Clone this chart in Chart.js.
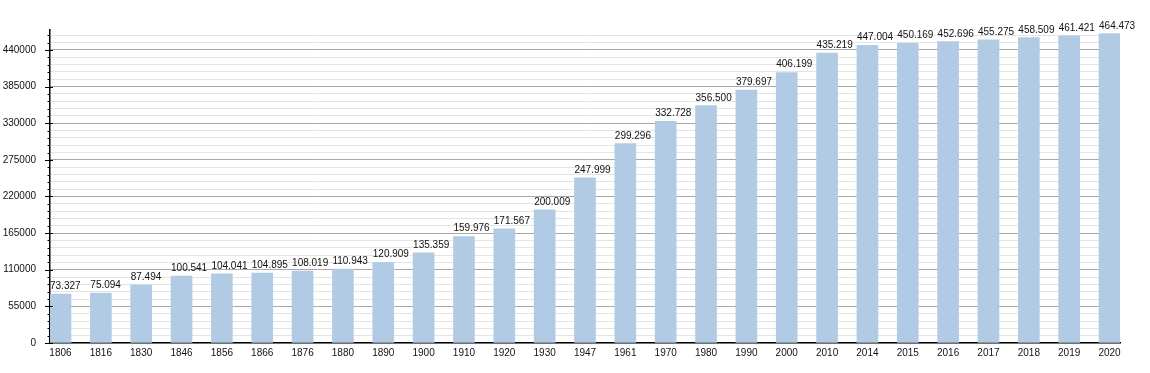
<!DOCTYPE html>
<html>
<head>
<meta charset="utf-8">
<script src="https://cdn.jsdelivr.net/npm/chart.js@4/dist/chart.umd.min.js"></script>
<style>
html,body{margin:0;padding:0;background:#fff;}
#wrap{width:1150px;height:373px;}
</style>
</head>
<body>
<div id="wrap"><canvas id="c" width="1150" height="373"></canvas></div>
<script>
const years = ["1806","1816","1830","1846","1856","1866","1876","1880","1890","1900","1910","1920","1930","1947","1961","1970","1980","1990","2000","2010","2014","2015","2016","2017","2018","2019","2020"];
const population = [73327,75094,87494,100541,104041,104895,108019,110943,120909,135359,159976,171567,200009,247999,299296,332728,356500,379697,406199,435219,447004,450169,452696,455275,458509,461421,464473];
const populationLabels = ["73.327","75.094","87.494","100.541","104.041","104.895","108.019","110.943","120.909","135.359","159.976","171.567","200.009","247.999","299.296","332.728","356.500","379.697","406.199","435.219","447.004","450.169","452.696","455.275","458.509","461.421","464.473"];
const yMajorStep = 55000;
const yMinorStep = 11000;
const yMax = 470000;

const FONT = "'Liberation Sans', Arial, sans-serif";

const labelPlugin = {
  id: 'valueLabels',
  afterDatasetsDraw(chart) {
    const ctx = chart.ctx;
    const meta = chart.getDatasetMeta(0);
    ctx.save();
    ctx.font = "10px " + FONT;
    ctx.fillStyle = "#111";
    ctx.textAlign = "left";
    ctx.textBaseline = "alphabetic";
    meta.data.forEach((bar, i) => {
      const left = bar.x - bar.width / 2;
      ctx.fillText(populationLabels[i], left, bar.y - 5);
    });
    ctx.restore();
  }
};

const tickPlugin = {
  id: 'yTicks',
  afterDraw(chart) {
    const ctx = chart.ctx;
    const ys = chart.scales.y;
    const ca = chart.chartArea;
    ctx.save();
    ctx.strokeStyle = "#000";
    ctx.lineWidth = 1;
    ys.ticks.forEach(t => {
      const py = Math.round(ys.getPixelForValue(t.value)) + 0.5;
      const major = t.value % yMajorStep === 0;
      ctx.beginPath();
      ctx.moveTo(ca.left - (major ? 5 : 2.5), py);
      ctx.lineTo(ca.left + (major ? 3 : 0), py);
      ctx.stroke();
    });
    ctx.restore();
  }
};

new Chart(document.getElementById('c'), {
  type: 'bar',
  data: {
    datasets: [{
      data: population.map((v, i) => ({x: i, y: v})),
      backgroundColor: '#b1cbe5',
      borderWidth: 0,
      barThickness: 21
    }]
  },
  options: {
    responsive: false,
    animation: false,
    events: [],
    layout: {padding: {left: 0, right: 30, top: 30, bottom: 0}},
    plugins: {legend: {display: false}, tooltip: {enabled: false}},
    scales: {
      x: {
        type: 'linear',
        offset: false,
        min: -0.26,
        max: years.length - 1 + 0.26,
        afterBuildTicks(scale) {
          scale.ticks = years.map((y, i) => ({value: i}));
        },
        afterFit(scale) { scale.height = 30; },
        grid: {display: false, drawTicks: false, offset: false},
        border: {display: true, color: '#000', width: 1.5},
        ticks: {
          autoSkip: false,
          maxRotation: 0,
          padding: 4,
          color: '#111',
          font: {family: FONT, size: 10},
          callback: (v) => years[v] !== undefined ? years[v] : ''
        }
      },
      y: {
        type: 'linear',
        min: 0,
        max: yMax,
        afterBuildTicks(scale) {
          const t = [];
          for (let v = 0; v <= yMax; v += yMinorStep) t.push({value: v});
          scale.ticks = t;
        },
        afterFit(scale) { scale.width = 50; },
        grid: {
          drawTicks: false,
          color: (c) => (c.tick && c.tick.value % yMajorStep === 0 && c.tick.value !== 0) ? '#a8a8a8' : '#e4e4e4',
          lineWidth: 1
        },
        border: {display: true, color: '#000', width: 1.5},
        ticks: {
          autoSkip: false,
          padding: 14,
          color: '#111',
          font: {family: FONT, size: 10},
          callback: (v) => v % yMajorStep === 0 ? String(v) : ''
        }
      }
    }
  },
  plugins: [labelPlugin, tickPlugin]
});
</script>
</body>
</html>
